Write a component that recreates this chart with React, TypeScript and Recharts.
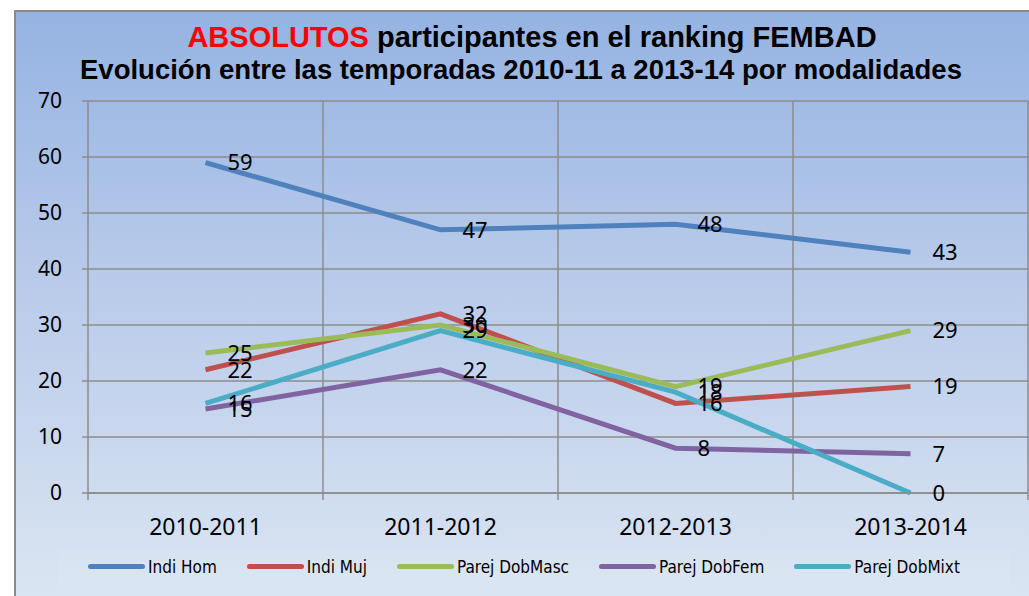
import { LineChart, Line, XAxis, YAxis, CartesianGrid, Legend, LabelList } from "recharts";

// temporadas y valores
const temporadas = ["2010-2011", "2011-2012", "2012-2013", "2013-2014"];
const indiHom = [59, 47, 48, 43];
const indiMuj = [22, 32, 16, 19];
const parejDobMasc = [25, 30, 19, 29];
const parejDobFem = [15, 22, 8, 7];
const parejDobMixt = [16, 29, 18, 0];
const yTicks = [0, 10, 20, 30, 40, 50, 60, 70];

const series = [
  { key: "indiHom", name: "Indi Hom", color: "#4f81bd", values: indiHom },
  { key: "indiMuj", name: "Indi Muj", color: "#c0504d", values: indiMuj },
  { key: "parejDobMasc", name: "Parej DobMasc", color: "#9bbb59", values: parejDobMasc },
  { key: "parejDobFem", name: "Parej DobFem", color: "#8064a2", values: parejDobFem },
  { key: "parejDobMixt", name: "Parej DobMixt", color: "#4bacc6", values: parejDobMixt },
];

// x numerico: cada temporada en el centro de su franja
const data = temporadas.map((t, i) => {
  const row: Record<string, number | string> = { x: i + 0.5, temporada: t };
  series.forEach((s) => (row[s.key] = s.values[i]));
  return row;
});

const xTicks: number[] = [];
for (let i = 0; i <= temporadas.length; i++) {
  xTicks.push(i);
  if (i < temporadas.length) xTicks.push(i + 0.5);
}

const FONT = "'Liberation Sans', Arial, sans-serif";
const BODY = "'Noto Sans', 'Open Sans', sans-serif";
const NARROW = "'Liberation Sans Narrow', 'Arial Narrow', 'DejaVu Sans Condensed', sans-serif";

function SeasonTick(props: any) {
  const { x, y, payload } = props;
  const v = payload.value as number;
  if (Number.isInteger(v)) {
    return <line x1={x} x2={x} y1={y} y2={y + 7} stroke="#8c8c8c" strokeWidth={1.5} />;
  }
  return (
    <text x={x} y={y + 42} textAnchor="middle" fontSize={23} fill="#000" style={{ fontFamily: BODY }}>
      {temporadas[Math.floor(v)]}
    </text>
  );
}

function LegendBox() {
  return (
    <div
      style={{
        display: "flex",
        alignItems: "center",
        height: 37,
        paddingLeft: 30,
        background: "rgba(255,255,255,0.07)",
        fontFamily: NARROW,
        fontSize: 17,
        color: "#000",
      }}
    >
      {series.map((s) => (
        <div key={s.key} style={{ display: "flex", alignItems: "center", marginRight: 30 }}>
          <div style={{ width: 57, height: 5, borderRadius: 3, background: s.color, marginRight: 3 }} />
          <span>{s.name}</span>
        </div>
      ))}
    </div>
  );
}

export default function App() {
  return (
    <div style={{ position: "absolute", left: 0, top: 0, width: 1029, height: 596, overflow: "hidden", background: "#fff", fontFamily: FONT }}>
      <div
        style={{
          position: "absolute",
          left: 14,
          top: 10,
          width: 1040,
          height: 600,
          border: "2px solid #8a8a8a",
          background: "linear-gradient(180deg, #95b3e2 0%, #b9cbea 45%, #dce6f3 100%)",
        }}
      />
      <div
        style={{
          position: "absolute",
          left: 0,
          top: 20,
          width: 1064,
          textAlign: "center",
          fontWeight: "bold",
          fontSize: 29,
          lineHeight: "34px",
          color: "#000",
        }}
      >
        <span style={{ color: "#ff0000" }}>ABSOLUTOS</span> participantes en el ranking FEMBAD
      </div>
      <div
        style={{
          position: "absolute",
          left: 0,
          top: 54,
          width: 1042,
          textAlign: "center",
          fontWeight: "bold",
          fontSize: 27.5,
          lineHeight: "32px",
          color: "#000",
        }}
      >
        Evolución entre las temporadas 2010-11 a 2013-14 por modalidades
      </div>
      <div style={{ position: "absolute", left: 0, top: 0 }}>
        <LineChart
          width={1040}
          height={596}
          data={data}
          margin={{ top: 101, right: 12, bottom: 26, left: 0 }}
        >
          <CartesianGrid
            stroke="#8c8c8c"
            strokeWidth={1.5}
            verticalCoordinatesGenerator={({ offset }: any) =>
              temporadas.map((_, i) => offset.left + ((i + 1) * offset.width) / temporadas.length)
            }
          />
          <XAxis
            dataKey="x"
            type="number"
            domain={[0, temporadas.length]}
            ticks={xTicks}
            interval={0}
            tickLine={false}
            tickSize={0}
            tickMargin={0}
            height={40}
            stroke="#8c8c8c"
            strokeWidth={1.5}
            tick={<SeasonTick />}
          />
          <YAxis
            domain={[0, 70]}
            ticks={yTicks}
            interval={0}
            width={88}
            tickSize={6}
            tickMargin={20}
            stroke="#8c8c8c"
            strokeWidth={1.5}
            tick={{ fill: "#000", fontSize: 21, style: { fontFamily: BODY } }}
          />
          <Legend
            verticalAlign="bottom"
            wrapperStyle={{ left: 58, width: 952, bottom: 11 }}
            content={<LegendBox />}
          />
          {series.map((s) => (
            <Line
              key={s.key}
              dataKey={s.key}
              name={s.name}
              stroke={s.color}
              strokeWidth={5}
              dot={false}
              activeDot={false}
              isAnimationActive={false}
            >
              <LabelList
                dataKey={s.key}
                position="right"
                offset={22}
                fontSize={22}
                fill="#000"
                style={{ fontFamily: BODY }}
              />
            </Line>
          ))}
        </LineChart>
      </div>
    </div>
  );
}
